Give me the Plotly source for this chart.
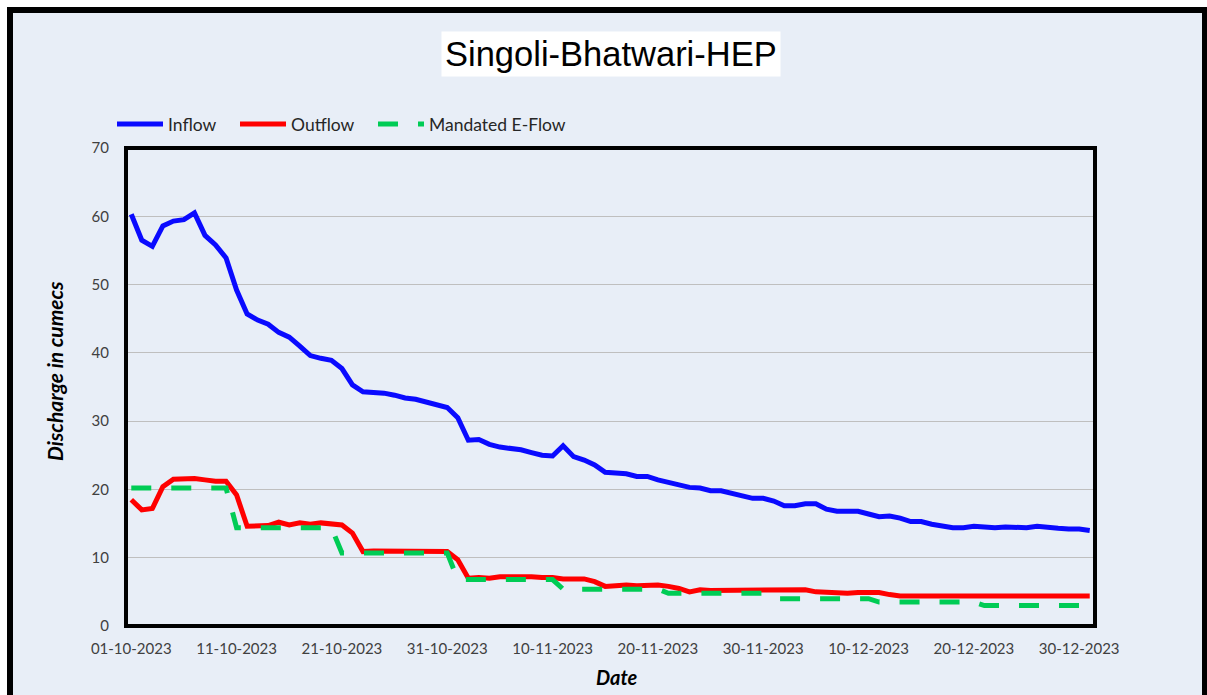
import plotly.graph_objects as go
import pandas as pd

# ---------------- data ----------------
dates = pd.date_range("2023-10-01", "2023-12-31", freq="D")

inflow = [
    60.3, 56.5, 55.6, 58.6, 59.3, 59.5, 60.5, 57.2, 55.8, 53.9,
    49.2, 45.7, 44.8, 44.2, 43.0, 42.3, 41.0, 39.6, 39.2, 38.9,
    37.7, 35.3, 34.3, 34.2, 34.1, 33.8, 33.4, 33.2, 32.8, 32.4,
    32.0, 30.5, 27.2, 27.3, 26.6, 26.2, 26.0, 25.8, 25.4, 25.0,
    24.9, 26.4, 24.8, 24.3, 23.6, 22.5, 22.4, 22.3, 21.9, 21.9,
    21.4, 21.0, 20.6, 20.3, 20.2, 19.8, 19.8, 19.4, 19.0, 18.7,
    18.7, 18.3, 17.6, 17.6, 17.9, 17.9, 17.1, 16.8, 16.8, 16.8,
    16.4, 16.0, 16.1, 15.8, 15.3, 15.3, 14.9, 14.6, 14.4, 14.4,
    14.6, 14.5, 14.4, 14.5, 14.4, 14.4, 14.6, 14.4, 14.3, 14.2,
    14.2, 14.0,
]

outflow = [
    18.5, 17.0, 17.2, 20.4, 21.5, 21.6, 21.6, 21.4, 21.2, 21.2,
    19.2, 14.6, 14.6, 14.7, 15.2, 14.8, 15.1, 14.9, 15.1, 15.0,
    14.8, 13.6, 10.9, 11.0, 11.0, 10.9, 10.9, 10.9, 10.9, 10.9,
    10.9, 9.7, 7.0, 7.1, 7.0, 7.2, 7.2, 7.3, 7.2, 7.1,
    7.1, 6.9, 6.9, 6.9, 6.5, 5.8, 5.9, 6.0, 5.9, 5.9,
    6.0, 5.8, 5.5, 5.0, 5.3, 5.2, 5.2, 5.3, 5.3, 5.3,
    5.3, 5.2, 5.3, 5.3, 5.3, 5.0, 4.9, 4.8, 4.8, 4.9,
    4.9, 4.9, 4.6, 4.4, 4.4, 4.4, 4.4, 4.4, 4.4, 4.4,
    4.4, 4.4, 4.4, 4.4, 4.4, 4.4, 4.4, 4.4, 4.4, 4.4,
    4.4, 4.4,
]

eflow = [
    20.2, 20.2, 20.2, 20.2, 20.2, 20.2, 20.2, 20.2, 20.2, 20.2,
    14.4, 14.4, 14.4, 14.4, 14.4, 14.4, 14.4, 14.4, 14.4, 14.4,
    10.7, 10.7, 10.7, 10.7, 10.7, 10.7, 10.7, 10.7, 10.7, 10.7,
    10.7, 6.8, 6.8, 6.8, 6.8, 6.8, 6.8, 6.8, 6.8, 6.8,
    6.8, 5.4, 5.4, 5.4, 5.4, 5.4, 5.4, 5.4, 5.4, 5.4,
    5.4, 4.8, 4.8, 4.8, 4.8, 4.8, 4.8, 4.8, 4.8, 4.8,
    4.8, 4.0, 4.0, 4.0, 4.0, 4.0, 4.0, 4.0, 4.0, 4.0,
    4.0, 3.5, 3.5, 3.5, 3.5, 3.5, 3.5, 3.5, 3.5, 3.5,
    3.5, 3.0, 3.0, 3.0, 3.0, 3.0, 3.0, 3.0, 3.0, 3.0,
    3.0, 3.0,
]

tick_dates = ["2023-10-01", "2023-10-11", "2023-10-21", "2023-10-31", "2023-11-10",
              "2023-11-20", "2023-11-30", "2023-12-10", "2023-12-20", "2023-12-30"]
tick_labels = ["01-10-2023", "11-10-2023", "21-10-2023", "31-10-2023", "10-11-2023",
               "20-11-2023", "30-11-2023", "10-12-2023", "20-12-2023", "30-12-2023"]
y_ticks = [0, 10, 20, 30, 40, 50, 60, 70]

# ---------------- layout constants ----------------
W, H = 1207, 695
ML, MR, MT, MB = 126, 112, 148, 69
PW, PH = W - ML - MR, H - MT - MB
BG = "#E8EEF7"
FONT = "Lato, 'Noto Sans', sans-serif"


def px_x(p):
    return (p - ML) / PW


def px_y(p):
    return (H - MB - p) / PH


fig = go.Figure()
fig.add_trace(go.Scatter(x=dates, y=inflow, name="Inflow", mode="lines",
                         line=dict(color="#0A0AFF", width=5), legend="legend"))
fig.add_trace(go.Scatter(x=dates, y=outflow, name="Outflow", mode="lines",
                         line=dict(color="#FF0000", width=5), legend="legend2"))
fig.add_trace(go.Scatter(x=dates, y=eflow, name="Mandated E-Flow", mode="lines",
                         line=dict(color="#00CC55", width=5, dash="20px,20px"),
                         legend="legend3"))


def leg(px):
    return dict(orientation="h", x=px_x(px), xanchor="left", y=px_y(124), yanchor="middle",
                bgcolor="rgba(0,0,0,0)", font=dict(size=17.5, color="#262626"),
                itemwidth=46)


fig.update_layout(
    width=W, height=H,
    margin=dict(l=ML, r=MR, t=MT, b=MB, pad=0),
    paper_bgcolor="white",
    plot_bgcolor=BG,
    font=dict(family=FONT, size=15, color="#404040"),
    showlegend=True,
    legend=leg(112),
    legend2=leg(235),
    legend3=leg(373),
    xaxis=dict(
        type="date",
        range=["2023-09-30 12:00", "2023-12-31 12:00"],
        tickmode="array", tickvals=tick_dates, ticktext=tick_labels,
        showgrid=False, zeroline=False, showline=False, ticks="",
        ticklabelstandoff=12,
        tickfont=dict(size=15, color="#404040"),
    ),
    yaxis=dict(
        range=[0, 70],
        tickmode="array", tickvals=y_ticks,
        showgrid=True, gridcolor="#BFBFBF", gridwidth=1,
        zeroline=False, showline=False, ticks="",
        ticklabelstandoff=16,
        tickfont=dict(size=15, color="#404040"),
    ),
    shapes=[
        # outer chart frame
        dict(type="rect", xref="paper", yref="paper", layer="below",
             x0=px_x(10), x1=px_x(1205), y0=px_y(730), y1=px_y(10),
             fillcolor=BG, line=dict(color="black", width=6)),
        # plot-area frame
        dict(type="rect", xref="paper", yref="paper", layer="above",
             x0=0, x1=1, y0=0, y1=1,
             line=dict(color="black", width=4)),
    ],
    annotations=[
        dict(text="Singoli-Bhatwari-HEP", xref="paper", yref="paper",
             x=px_x(611), y=px_y(54), xanchor="center", yanchor="middle",
             showarrow=False, bgcolor="white", borderpad=3,
             font=dict(family="'Liberation Sans', Arial, sans-serif", size=34.5, color="black")),
        dict(text="Discharge in cumecs", xref="paper", yref="paper",
             x=px_x(54), y=px_y(371), xanchor="center", yanchor="middle",
             textangle=-90, showarrow=False,
             font=dict(family=FONT, size=21, color="black", weight="bold", style="italic")),
        dict(text="Date", xref="paper", yref="paper",
             x=px_x(617), y=px_y(677), xanchor="center", yanchor="middle",
             showarrow=False,
             font=dict(family=FONT, size=20, color="black", weight="bold", style="italic")),
    ],
)

fig.write_html("out.html", config={"displayModeBar": False},
               post_script="document.body.style.margin='0';")
